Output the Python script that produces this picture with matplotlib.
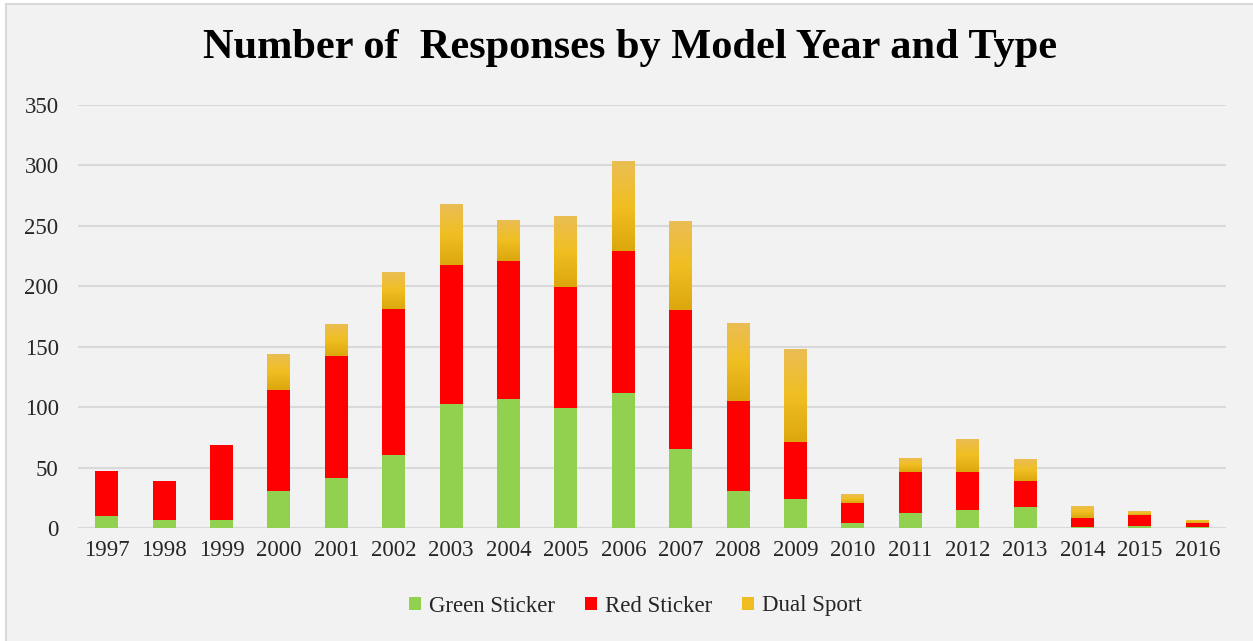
import numpy as np
import matplotlib.pyplot as plt
from matplotlib.patches import Rectangle
from matplotlib.colors import LinearSegmentedColormap

years = [str(y) for y in range(1997, 2017)]
green = [10, 7, 7, 31, 41, 60, 103, 107, 99, 112, 65, 31, 24, 4, 12, 15, 17, 1, 2, 1]
red = [37, 32, 62, 83, 101, 121, 115, 114, 100, 117, 115, 74, 47, 17, 34, 31, 22, 7, 9, 3]
dual = [0, 0, 0, 30, 27, 31, 50, 34, 59, 75, 74, 65, 77, 7, 12, 28, 18, 10, 3, 3]

W, H = 1253, 641
fig = plt.figure(figsize=(W / 100, H / 100), dpi=100, facecolor='white')
# chart area with its thin border (left and top visible)
fig.patches.append(Rectangle((6 / W, -0.1), 1.1, (H - 4) / H + 0.1, transform=fig.transFigure,
                             facecolor='#f2f2f2', edgecolor='#d9d9d9', lw=1.5, zorder=-10))

ax = fig.add_axes([78 / W, 1 - 528 / H, (1226 - 78) / W, (528 - 105) / H])
ax.set_facecolor('none')

x = np.arange(len(years))
bw = 0.40
g_bars = ax.bar(x, green, bw, color='#92d050', label='Green Sticker', zorder=3)
r_bars = ax.bar(x, red, bw, bottom=green, color='#ff0000', label='Red Sticker', zorder=3)
bottom2 = np.array(green) + np.array(red)
d_bars = ax.bar(x, dual, bw, bottom=bottom2, color='#efbc24', label='Dual Sport', zorder=3)

# gold gradient for the dual sport segments
gold = LinearSegmentedColormap.from_list('gold', ['#dba70d', '#f0bf22', '#eabd55'])
grad = np.linspace(0, 1, 100).reshape(-1, 1)
for p in d_bars:
    if p.get_height() <= 0:
        continue
    x0, y0 = p.get_x(), p.get_y()
    im = ax.imshow(grad, cmap=gold, origin='lower', aspect='auto', zorder=4,
                   extent=(x0, x0 + p.get_width(), y0, y0 + p.get_height()))
    im.set_clip_path(p)

ax.set_xlim(-0.5, len(years) - 0.5)
ax.set_ylim(0, 350)
ax.set_yticks(range(0, 351, 50))
ax.set_xticks(x)
ax.set_xticklabels(years)
ax.grid(axis='y', color='#d9d9d9', lw=1.5, zorder=0)
for s in ax.spines.values():
    s.set_visible(False)
ax.tick_params(length=0, labelsize=16.5, labelcolor='#262626', pad=14)
ax.tick_params(axis='x', pad=9)
for lab in ax.get_xticklabels() + ax.get_yticklabels():
    lab.set_family('Liberation Serif')

fig.text(0.503, 1 - 48 / H, 'Number of  Responses by Model Year and Type', ha='center', va='center',
         fontsize=30.5, fontweight='bold', family='Liberation Serif', color='black')

leg = fig.legend(handles=[g_bars, r_bars, d_bars], loc='center', bbox_to_anchor=(0.507, 1 - 606 / H),
                 ncol=3, frameon=False, prop={'family': 'Liberation Serif', 'size': 16.5},
                 handlelength=0.53, handleheight=0.53, handletextpad=0.35, columnspacing=1.3)
for t in leg.get_texts():
    t.set_color('#262626')

fig.savefig('out.png', dpi=100, facecolor=fig.get_facecolor())
